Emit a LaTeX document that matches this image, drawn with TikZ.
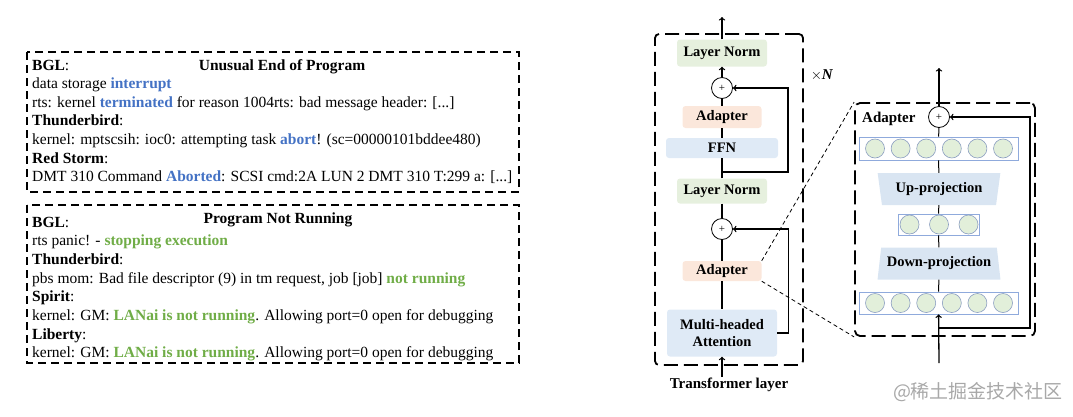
\documentclass[tikz,border=0pt]{standalone}
\usepackage{fontspec}
\setmainfont{Liberation Serif}
\newfontfamily\cjk{Noto Sans CJK SC}
\usetikzlibrary{shapes.geometric,positioning}

\definecolor{kwblue}{HTML}{4472C4}
\definecolor{kwgreen}{HTML}{70AD47}
\definecolor{lnfill}{HTML}{E6F0DE}
\definecolor{adfill}{HTML}{FBE7DB}
\definecolor{fffill}{HTML}{DFEAF6}
\definecolor{trfill}{HTML}{D9E5F2}
\definecolor{nrfill}{HTML}{E2EFDA}
\definecolor{nrline}{HTML}{8FAADC}
\definecolor{wmgray}{HTML}{A8A8A8}
\newcommand{\kwb}[1]{\textcolor{kwblue}{\textbf{#1}}}
\newcommand{\kwg}[1]{\textcolor{kwgreen}{\textbf{#1}}}

\begin{document}
\begin{tikzpicture}[x=1pt,y=-1pt,
    logline/.style={anchor=base west,inner sep=0,font=\fontsize{15.5pt}{18pt}\selectfont},
    logtitle/.style={anchor=base,inner sep=0,font=\fontsize{15.5pt}{18pt}\selectfont\bfseries},
    dashframe/.style={draw,line width=1.3pt,dash pattern=on 8pt off 5pt},
    bigframe/.style={draw,line width=1.8pt,dash pattern=on 14pt off 6pt},
    block/.style={rounded corners=3pt,inner sep=0,align=center,font=\fontsize{14.5pt}{17pt}\selectfont\bfseries},
    sumnode/.style={circle,draw,line width=0.8pt,fill=white,minimum size=21pt,inner sep=0,font=\fontsize{11pt}{11pt}\selectfont},
    flow/.style={line width=1.3pt},
    nrow/.style={draw=nrline,line width=0.8pt,fill=white,inner sep=0},
    neuron/.style={circle,draw=nrline!70!gray,fill=nrfill,minimum size=19pt,inner sep=0,line width=0.6pt},
    proj/.style={trapezium,trapezium stretches=true,trapezium angle=76,fill=trfill,minimum width=123pt,minimum height=32pt,inner sep=0,font=\fontsize{14.5pt}{17pt}\selectfont\bfseries},
    zoomline/.style={line width=0.8pt,dash pattern=on 4pt off 3pt}]
\useasboundingbox (0,0) rectangle (1073,416);

% log examples
\draw[dashframe] (27,52) rectangle (519,192);
\node[logline] (b1l1) at (32,70) {\textbf{BGL}:};
\node[logtitle] (b1t) at (282,70) {Unusual End of Program};
\node[logline] (b1l2) at (32,88.6) {data storage \kwb{interrupt}};
\node[logline] (b1l3) at (32,107.2) {rts: kernel \kwb{terminated} for reason 1004rts: bad message header: [...]};
\node[logline] (b1l4) at (32,125.8) {\textbf{Thunderbird}:};
\node[logline] (b1l5) at (32,144.4) {kernel: mptscsih: ioc0: attempting task \kwb{abort}! (sc=00000101bddee480)};
\node[logline] (b1l6) at (32,163) {\textbf{Red Storm}:};
\node[logline] (b1l7) at (32,181.6) {DMT 310 Command \kwb{Aborted}: SCSI cmd:2A LUN 2 DMT 310 T:299 a: [...]};

\draw[dashframe] (27,205) rectangle (519,363);
\node[logline] (b2l1) at (32,227) {\textbf{BGL}:};
\node[logtitle] (b2t) at (278,223) {Program Not Running};
\node[logline] (b2l2) at (32,245.7) {rts panic! - \kwg{stopping execution}};
\node[logline] (b2l3) at (32,264.4) {\textbf{Thunderbird}:};
\node[logline] (b2l4) at (32,283.1) {pbs mom: Bad file descriptor (9) in tm request, job [job] \kwg{not running}};
\node[logline] (b2l5) at (32,301.8) {\textbf{Spirit}:};
\node[logline] (b2l6) at (32,320.5) {kernel: GM: \kwg{LANai is not running}. Allowing port=0 open for debugging};
\node[logline] (b2l7) at (32,339.2) {\textbf{Liberty}:};
\node[logline] (b2l8) at (32,357.9) {kernel: GM: \kwg{LANai is not running}. Allowing port=0 open for debugging};

% transformer layer
\node[bigframe,rounded corners=4pt,minimum width=148pt,minimum height=331pt] (tl) at (729,199.5) {};
\node[block,fill=lnfill,minimum width=90pt,minimum height=27pt] (ln1) at (722,53) {Layer Norm};
\node[sumnode] (p1) at (722,88) {+};
\node[block,fill=adfill,minimum width=79pt,minimum height=22pt] (ad1) at (722,117) {Adapter};
\node[block,fill=fffill,minimum width=112pt,minimum height=20pt] (ffn) at (722,148) {FFN};
\node[block,fill=lnfill,minimum width=90pt,minimum height=25pt] (ln2) at (722,191) {Layer Norm};
\node[sumnode] (p2) at (722,229) {+};
\node[block,fill=adfill,minimum width=79pt,minimum height=20pt] (ad2) at (722,271) {Adapter};
\node[block,fill=fffill,minimum width=110pt,minimum height=47pt] (mha) at (722,333) {Multi-headed\\Attention};
\node[inner sep=0,font=\fontsize{15pt}{18pt}\selectfont\bfseries] (tlname) at (729,385) {Transformer layer};
\node[inner sep=0,font=\fontsize{15pt}{18pt}\selectfont] (xn) at (822,75) {$\times$\textbf{\textit{N}}};

\coordinate (out1) at (722,17);
\coordinate (r1) at (722,172);
\coordinate (in1) at (722,377);
\draw[flow,->] (ln1) -- (out1);
\draw[flow,->] (p1) -- (ln1);
\draw[flow] (ad1) -- (p1);
\draw[flow] (ffn) -- (ad1);
\draw[flow] (ln2) -- (ffn);
\draw[flow,->] (r1) -- ++(66,0) |- (p1);
\draw[flow] (ln2) -- (p2);
\draw[flow] (p2) -- (ad2);
\draw[flow] (ad2) -- (mha);
\draw[flow,->] (mha.east) -- ++(11,0) |- (p2);
\draw[flow,->] (in1) -- (mha);

% adapter detail
\node[bigframe,rounded corners=5pt,minimum width=180pt,minimum height=233pt] (adbox) at (945,219.5) {};
\node[anchor=west,inner sep=0,font=\fontsize{15pt}{18pt}\selectfont\bfseries] (adname) at (862,119) {Adapter};
\node[sumnode] (p3) at (939,117) {+};
\node[nrow,minimum width=159pt,minimum height=23pt] (rowT) at (938.5,148.5) {};
\foreach \k in {0,...,5}
  \node[neuron] (t\k) at (875+25.6*\k,148.5) {};
\node[proj,shape border rotate=180] (up) at (939,189) {Up-projection};
\node[nrow,minimum width=81pt,minimum height=21pt] (rowM) at (938.5,224.5) {};
\foreach \k in {0,...,2}
  \node[neuron] (m\k) at (909.5+29.5*\k,224.5) {};
\node[proj] (dn) at (939,263.5) {Down-projection};
\node[nrow,minimum width=159pt,minimum height=22pt] (rowB) at (938.5,303) {};
\foreach \k in {0,...,5}
  \node[neuron] (b\k) at (875+25.6*\k,303) {};

\coordinate (out2) at (939,68);
\coordinate (in2) at (939,363);
\coordinate (r3) at (939,328);
\draw[line width=1pt] (p3) -- (rowT);
\draw[line width=1pt] (rowT) -- (up);
\draw[line width=1pt] (up) -- (rowM);
\draw[line width=1pt] (rowM) -- (dn);
\draw[line width=1pt] (dn) -- (rowB);
\draw[flow,->] (p3) -- (out2);
\draw[flow,->] (in2) -- (rowB);
\draw[flow,->] (r3) -- ++(91,0) |- (p3);

\draw[zoomline] (ad2.north east) -- (adbox.north west);
\draw[zoomline] (ad2.south east) -- (adbox.south west);

\node[inner sep=0,text=wmgray,font=\cjk\fontsize{19pt}{19pt}\selectfont] (wm) at (978,392) {@稀土掘金技术社区};
\end{tikzpicture}
\end{document}
